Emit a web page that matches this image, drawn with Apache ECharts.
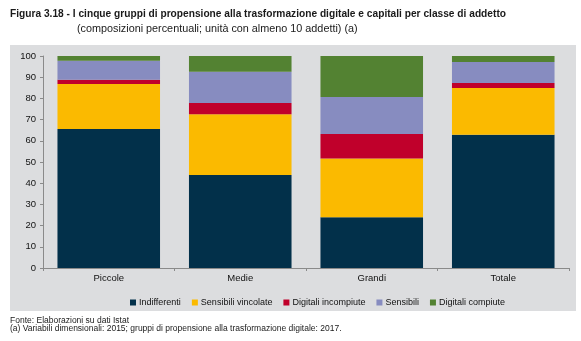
<!DOCTYPE html>
<html><head><meta charset="utf-8">
<script src="https://cdn.jsdelivr.net/npm/echarts@6/dist/echarts.min.js"></script>
<style>html,body{margin:0;padding:0;background:#fff}#c{width:581px;height:341px}</style>
</head><body><div id="c"></div>
<script>
const categories = ['Piccole', 'Medie', 'Grandi', 'Totale'];
const indifferenti = [65.6, 43.9, 23.9, 62.9];
const sensibiliVincolate = [21.2, 28.6, 27.7, 22.0];
const digitaliIncompiute = [2.0, 5.3, 11.6, 2.4];
const sensibili = [9.0, 14.8, 17.5, 9.9];
const digitaliCompiute = [2.2, 7.4, 19.3, 2.8];
const seriesNames = ['Indifferenti', 'Sensibili vincolate', 'Digitali incompiute', 'Sensibili', 'Digitali compiute'];
const seriesData = [indifferenti, sensibiliVincolate, digitaliIncompiute, sensibili, digitaliCompiute];
const colors = ['#02304A', '#FBBA00', '#C0002B', '#878CC0', '#538232'];

const font = 'Liberation Sans, Arial, sans-serif';
const chart = echarts.init(document.getElementById('c'));
chart.setOption({
  animation: false,
  color: colors,
  graphic: [
    {type: 'rect', z: -10, shape: {x: 10, y: 45, width: 566, height: 266}, style: {fill: '#DCDDDF'}},
    {type: 'text', x: 10, y: 8, scaleX: 0.885, style: {text: 'Figura 3.18 - I cinque gruppi di propensione alla trasformazione digitale e capitali per classe di addetto', font: 'bold 11.5px ' + font, fill: '#1a1a1a'}},
    {type: 'text', x: 77, y: 23, scaleX: 0.94, style: {text: '(composizioni percentuali; unità con almeno 10 addetti) (a)', font: '11.5px ' + font, fill: '#1a1a1a'}},
    {type: 'text', x: 10, y: 316, scaleX: 1, style: {text: 'Fonte: Elaborazioni su dati Istat', font: '8.5px ' + font, fill: '#1a1a1a'}},
    {type: 'text', x: 10, y: 324.5, scaleX: 1, style: {text: '(a) Variabili dimensionali: 2015; gruppi di propensione alla trasformazione digitale: 2017.', font: '8.5px ' + font, fill: '#1a1a1a'}}
  ],
  legend: {
    data: seriesNames,
    left: 125,
    top: 293,
    itemWidth: 6,
    itemHeight: 6,
    itemGap: 11,
    icon: 'rect',
    textStyle: {fontFamily: font, fontSize: 9, color: '#111', padding: [0, 0, 0, -2]}
  },
  grid: {left: 43, right: 12, top: 56, bottom: 73, containLabel: false},
  xAxis: {
    type: 'category',
    data: categories,
    axisLine: {lineStyle: {color: '#8a8a8a', width: 1}},
    axisTick: {show: true, length: 3, lineStyle: {color: '#8a8a8a'}},
    axisLabel: {fontFamily: font, fontSize: 9.5, color: '#111', margin: 5}
  },
  yAxis: {
    type: 'value',
    min: 0, max: 100, interval: 10,
    axisLine: {show: true, lineStyle: {color: '#8a8a8a'}},
    axisTick: {show: true, length: 3, lineStyle: {color: '#8a8a8a'}},
    splitLine: {show: false},
    axisLabel: {fontFamily: font, fontSize: 9.5, color: '#111', margin: 7}
  },
  series: seriesNames.map((n, i) => ({
    name: n,
    type: 'bar',
    stack: 'tot',
    data: seriesData[i],
    barCategoryGap: '22%',
    itemStyle: {color: colors[i]}
  }))
});
</script></body></html>
